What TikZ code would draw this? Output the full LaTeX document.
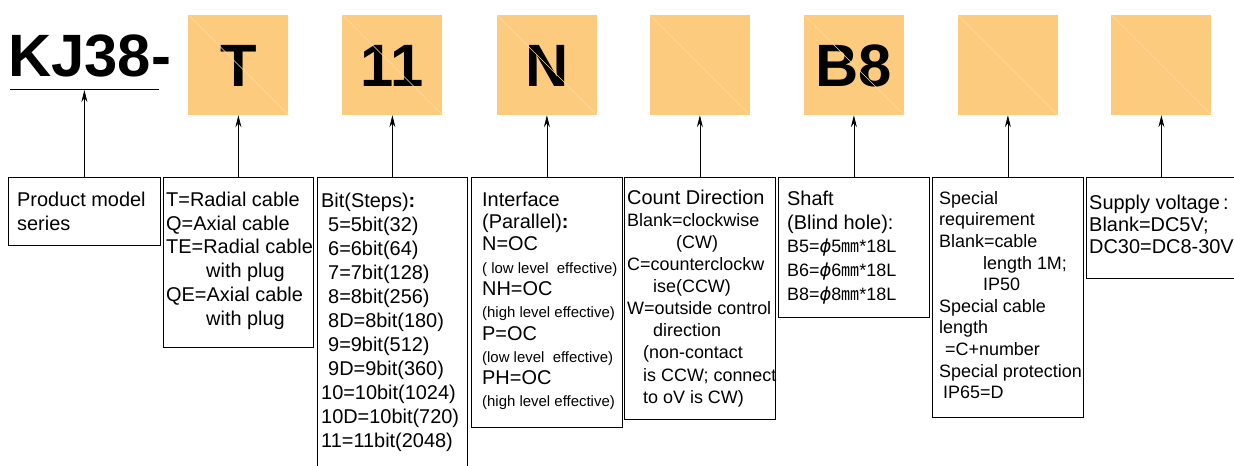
\documentclass[tikz,border=0pt]{standalone}
\usepackage{fontspec}
\setmainfont{Liberation Sans}
\newfontfamily\cjk{Noto Sans CJK SC}
\newfontfamily\grk{DejaVu Sans}
\usetikzlibrary{arrows.meta}
\definecolor{codeorange}{HTML}{FCCB7E}
\definecolor{codeseam}{HTML}{FDDCA6}
\newcommand{\mmunit}{{\cjk ㎜}}
\newcommand{\phisym}{{\grk\itshape ϕ}}
\begin{document}
\begin{tikzpicture}[x=1bp,y=-1bp,
    codebox/.style={fill=codeorange,minimum width=100bp,minimum height=100bp,inner sep=0pt,
      font=\fontsize{60}{60}\selectfont\bfseries,text height=43bp,text depth=0pt},
    descbox/.style={draw,line width=0.8bp,anchor=north west,inner sep=0pt},
    desc/.style={anchor=north west,inner sep=0pt,align=left},
    pointer/.style={line width=0.8bp,-{Stealth[length=12bp,width=6bp]}}]
  \useasboundingbox (0,0) rectangle (1234,466);
  % description boxes
  \node[descbox,minimum width=152bp,minimum height=68bp] (bProd) at (8,177) {};
  \node[descbox,minimum width=150bp,minimum height=170bp] (bTyp) at (163,177) {};
  \node[descbox,minimum width=150bp,minimum height=310bp] (bBit) at (317,177) {};
  \node[descbox,minimum width=151bp,minimum height=250bp] (bIf) at (471,177) {};
  \node[descbox,minimum width=151bp,minimum height=242bp] (bDir) at (624,177) {};
  \node[descbox,minimum width=151bp,minimum height=140bp] (bShaft) at (778,177) {};
  \node[descbox,minimum width=151bp,minimum height=240bp] (bSpec) at (932,177) {};
  \node[descbox,minimum width=150bp,minimum height=101bp] (bVolt) at (1086,177) {};
  % code boxes
  \coordinate (row) at (0,65);
  \node[codebox] (cTyp) at (bTyp.north |- row) {T};
  \node[codebox] (cBit) at (bBit.north |- row) {11};
  \node[codebox] (cIf) at (bIf.north |- row) {N};
  \node[codebox] (cDir) at (bDir.north |- row) {};
  \node[codebox] (cShaft) at (bShaft.north |- row) {B8};
  \node[codebox] (cSpec) at (bSpec.north |- row) {};
  \node[codebox] (cVolt) at (bVolt.north |- row) {};
  \foreach \c in {cTyp,cBit,cIf,cDir,cShaft,cSpec,cVolt} {
      \draw[codeseam,line width=0.5bp] (\c.north west) -- (\c.south east);
  };
  \node[anchor=base west,inner sep=0pt,font=\fontsize{60}{60}\selectfont\bfseries] (kj) at (8,77) {KJ38-};
  \coordinate (ulL) at (10,90);
  \coordinate (ulR) at (159,90);
  \draw[line width=1bp] (ulL) -- (ulR);
  % pointers
  \draw[pointer] (bProd.north) -- (bProd.north |- ulL);
  \foreach \b/\c in {bTyp/cTyp,bBit/cBit,bIf/cIf,bDir/cDir,bShaft/cShaft,bSpec/cSpec,bVolt/cVolt} {
      \draw[pointer] (\b.north) -- (\c.south);
  };
  % texts
  \node[desc,font=\fontsize{20}{24}\selectfont] (tProd) at (17,191.5) {Product model\\series};
  \node[desc,font=\fontsize{20}{24}\selectfont] (tTyp) at (166,191.5) {
    T=Radial cable\\Q=Axial cable\\TE=Radial cable\\\hspace*{40bp}with plug\\
    QE=Axial cable\\\hspace*{40bp}with plug
  };
  \node[desc,font=\fontsize{20}{24.1}\selectfont] (tBit) at (321,192.5) {
    Bit(Steps)\textbf{:}\\\hspace*{7bp}5=5bit(32)\\\hspace*{7bp}6=6bit(64)\\
    \hspace*{7bp}7=7bit(128)\\\hspace*{7bp}8=8bit(256)\\\hspace*{7bp}8D=8bit(180)\\
    \hspace*{7bp}9=9bit(512)\\\hspace*{7bp}9D=9bit(360)\\10=10bit(1024)\\
    10D=10bit(720)\\11=11bit(2048)
  };
  \node[desc,font=\fontsize{20}{22.4}\selectfont] (tIf) at (482,191.5) {
    Interface\\(Parallel)\textbf{:}\\N=OC\\
    {\fontsize{15}{22.4}\selectfont ( low level\ \ effective)}\\NH=OC\\
    {\fontsize{15}{22.4}\selectfont (high level effective)}\\P=OC\\
    {\fontsize{15}{22.4}\selectfont (low level\ \ effective)}\\PH=OC\\
    {\fontsize{15}{22.4}\selectfont (high level effective)}
  };
  \node[desc,font=\fontsize{18}{22.2}\selectfont] (tDir) at (627,189.5) {
    {\fontsize{20}{22.2}\selectfont Count Direction}\\Blank=clockwise\\
    \hspace*{49bp}(CW)\\C=counterclockw\\\hspace*{26bp}ise(CCW)\\
    W=outside control\\\hspace*{26bp}direction\\\hspace*{16bp}(non-contact\\
    \hspace*{16bp}is CCW; connect\\\hspace*{16bp}to oV is CW)
  };
  \node[desc,font=\fontsize{20}{24}\selectfont] (tShaft) at (787,190.5) {
    Shaft\\(Blind hole):\\
    {\fontsize{18}{24}\selectfont B5=\phisym5\mmunit*18L}\\
    {\fontsize{18}{24}\selectfont B6=\phisym6\mmunit*18L}\\
    {\fontsize{18}{24}\selectfont B8=\phisym8\mmunit*18L}
  };
  \node[desc,font=\fontsize{18}{21.7}\selectfont] (tSpec) at (939,191) {
    Special\\requirement\\Blank=cable\\\hspace*{44bp}length 1M;\\\hspace*{44bp}IP50\\
    Special cable\\length\\\hspace*{6bp}=C+number\\Special protection\\\hspace*{4bp}IP65=D
  };
  \node[desc,font=\fontsize{20}{22.5}\selectfont] (tVolt) at (1089,194.5) {
    Supply voltage\,:\\Blank=DC5V;\\DC30=DC8-30V
  };
\end{tikzpicture}
\end{document}
